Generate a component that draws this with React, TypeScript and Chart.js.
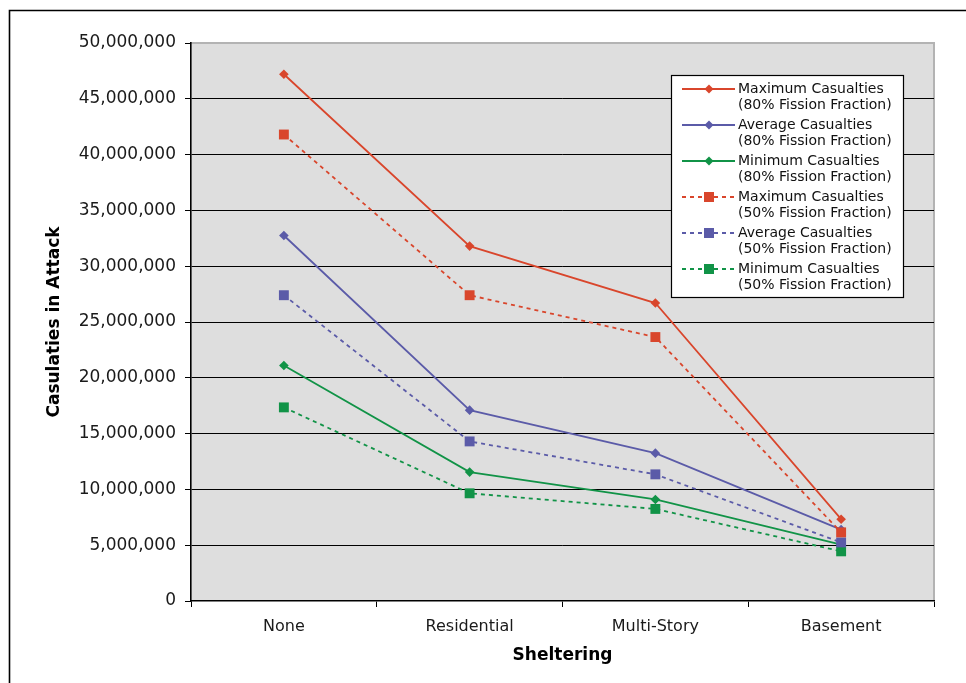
import React, { useEffect, useRef } from "react";
import { Chart, registerables } from "chart.js";

Chart.register(...registerables);

const categories = ["None", "Residential", "Multi-Story", "Basement"];

const max80 = [47200000, 31800000, 26700000, 7330000];
const avg80 = [32750000, 17100000, 13250000, 6400000];
const min80 = [21100000, 11550000, 9100000, 5050000];
const max50 = [41800000, 27400000, 23650000, 6150000];
const avg50 = [27400000, 14300000, 11350000, 5250000];
const min50 = [17350000, 9650000, 8250000, 4450000];

const seriesLabels = [
  ["Maximum Casualties", "(80% Fission Fraction)"],
  ["Average Casualties", "(80% Fission Fraction)"],
  ["Minimum Casualties", "(80% Fission Fraction)"],
  ["Maximum Casualties", "(50% Fission Fraction)"],
  ["Average Casualties", "(50% Fission Fraction)"],
  ["Minimum Casualties", "(50% Fission Fraction)"],
];

const yTitle = "Casulaties in Attack";
const xTitle = "Sheltering";

const RED = "#d9462c";
const BLUE = "#5b5ba8";
const GREEN = "#119347";

const FONT = "'DejaVu Sans', sans-serif";

function makeDataset(idx: number, data: number[], color: string, dashed: boolean) {
  return {
    label: seriesLabels[idx].join(" "),
    data,
    borderColor: color,
    backgroundColor: color,
    borderWidth: 1.8,
    borderDash: dashed ? [4, 4] : [],
    pointStyle: dashed ? "rect" : "rectRot",
    pointRadius: dashed ? 7 : 4.8,
    pointBorderWidth: 0,
    pointBackgroundColor: color,
    tension: 0,
    fill: false,
    order: dashed ? 0 : 1,
  };
}

const framePlugin = {
  id: "frame",
  beforeDraw(chart: any) {
    const { ctx, chartArea } = chart;
    const { left, top, right, bottom } = chartArea;
    ctx.save();
    ctx.strokeStyle = "#000";
    ctx.lineWidth = 1.6;
    ctx.beginPath();
    ctx.moveTo(9.5, 700);
    ctx.lineTo(9.5, 10.5);
    ctx.lineTo(1000, 10.5);
    ctx.stroke();
    ctx.fillStyle = "#dedede";
    ctx.fillRect(left, top, right - left, bottom - top);
    ctx.strokeStyle = "#b3b3b3";
    ctx.lineWidth = 2;
    ctx.beginPath();
    ctx.moveTo(left, top);
    ctx.lineTo(right, top);
    ctx.lineTo(right, bottom);
    ctx.stroke();
    ctx.restore();
  },
  afterDraw(chart: any) {
    const { ctx, chartArea } = chart;
    const { left, top, right, bottom } = chartArea;
    ctx.save();
    ctx.fillStyle = "#000";
    ctx.font = "bold 17px " + FONT;
    ctx.textAlign = "center";
    ctx.textBaseline = "middle";
    ctx.fillText(xTitle, (left + right) / 2, 656);
    ctx.translate(55, (top + bottom) / 2);
    ctx.rotate(-Math.PI / 2);
    ctx.fillText(yTitle, 0, 0);
    ctx.restore();

    ctx.save();
    const bx = right - 263;
    const by = top + 32;
    const bw = 232;
    const bh = 222;
    ctx.fillStyle = "#fff";
    ctx.fillRect(bx, by, bw, bh);
    ctx.strokeStyle = "#000";
    ctx.lineWidth = 1.2;
    ctx.strokeRect(bx + 0.5, by + 0.5, bw, bh);
    chart.data.datasets.forEach((ds: any, i: number) => {
      const cy = by + 14 + 36 * i;
      ctx.strokeStyle = ds.borderColor;
      ctx.lineWidth = 1.8;
      ctx.setLineDash(ds.borderDash || []);
      ctx.beginPath();
      ctx.moveTo(bx + 11, cy);
      ctx.lineTo(bx + 64, cy);
      ctx.stroke();
      ctx.setLineDash([]);
      ctx.fillStyle = ds.borderColor;
      const mx = bx + 38;
      if (ds.pointStyle === "rect") {
        ctx.fillRect(mx - 5, cy - 5, 10, 10);
      } else {
        ctx.beginPath();
        ctx.moveTo(mx - 4.5, cy);
        ctx.lineTo(mx, cy - 4.5);
        ctx.lineTo(mx + 4.5, cy);
        ctx.lineTo(mx, cy + 4.5);
        ctx.closePath();
        ctx.fill();
      }
      ctx.fillStyle = "#111";
      ctx.font = "14px " + FONT;
      ctx.textAlign = "left";
      ctx.textBaseline = "middle";
      ctx.fillText(seriesLabels[i][0], bx + 67, cy);
      ctx.fillText(seriesLabels[i][1], bx + 67, cy + 16);
    });
    ctx.restore();
  },
};

export default function App() {
  const ref = useRef<HTMLCanvasElement | null>(null);
  useEffect(() => {
    if (!ref.current) return;
    const chart = new Chart(ref.current, {
      type: "line",
      data: {
        labels: categories,
        datasets: [
          makeDataset(0, max80, RED, false),
          makeDataset(1, avg80, BLUE, false),
          makeDataset(2, min80, GREEN, false),
          makeDataset(3, max50, RED, true),
          makeDataset(4, avg50, BLUE, true),
          makeDataset(5, min50, GREEN, true),
        ] as any,
      },
      options: {
        animation: false,
        responsive: false,
        devicePixelRatio: 1,
        layout: { padding: { left: 0, top: 43, right: 32, bottom: 0 } },
        plugins: {
          legend: { display: false },
          tooltip: { enabled: false },
          title: { display: false },
        },
        scales: {
          x: {
            type: "category",
            offset: true,
            grid: {
              offset: true,
              drawOnChartArea: false,
              drawTicks: true,
              tickLength: 6,
              tickColor: "#000",
              tickWidth: 1,
            },
            border: { color: "#000", width: 1.6 },
            ticks: {
              font: { family: FONT, size: 16 },
              color: "#1a1a1a",
              padding: 10,
              maxRotation: 0,
            },
            afterFit(scale: any) {
              scale.height = 82;
            },
          },
          y: {
            min: 0,
            max: 50000000,
            grid: {
              color: (c: any) =>
                c.tick && (c.tick.value === 0 || c.tick.value === 50000000) ? "rgba(0,0,0,0)" : "#000",
              lineWidth: 1,
              tickLength: 6,
              tickColor: "#000",
              tickWidth: 1,
            },
            border: { color: "#000", width: 1.6 },
            ticks: {
              stepSize: 5000000,
              font: { family: FONT, size: 17 },
              color: "#1a1a1a",
              padding: 9,
              callback: (v: any) => Number(v).toLocaleString("en-US"),
            },
            afterFit(scale: any) {
              scale.width = 191;
            },
          },
        },
      } as any,
      plugins: [framePlugin],
    });
    return () => chart.destroy();
  }, []);
  return (
    <div style={{ position: "absolute", left: 0, top: 0, width: 966, height: 683, background: "#fff" }}>
      <canvas ref={ref} width={966} height={683} style={{ display: "block" }} />
    </div>
  );
}
